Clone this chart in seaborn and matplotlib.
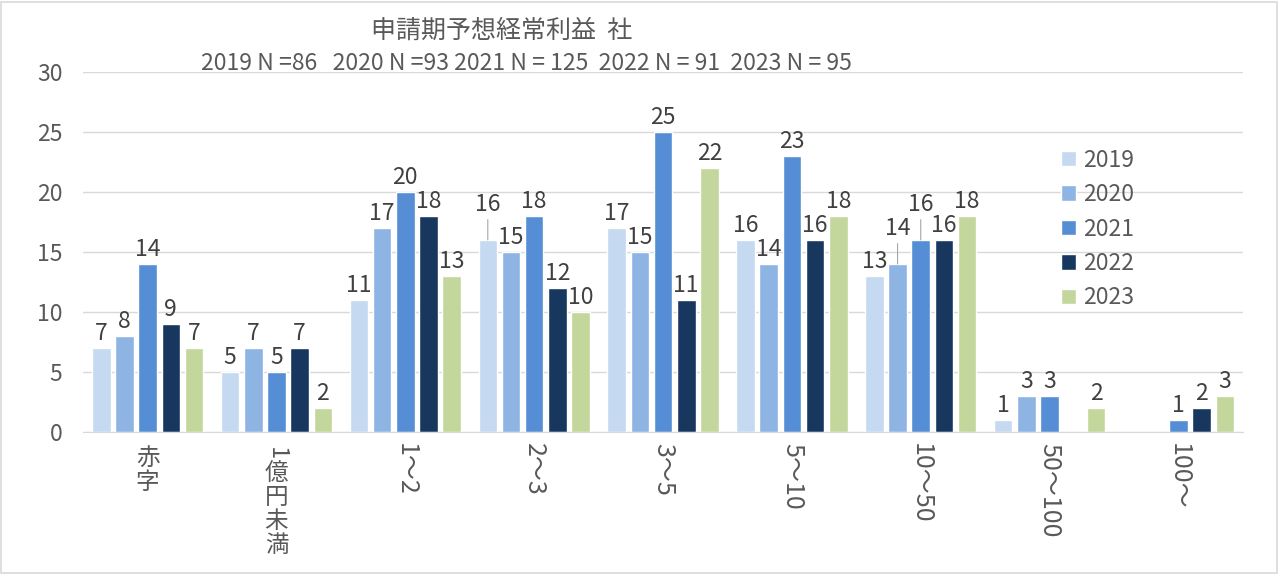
import matplotlib
matplotlib.use("Agg")
import matplotlib.pyplot as plt
from matplotlib.patches import Rectangle
import seaborn as sns
import pandas as pd

categories = ["赤字", "1億円未満", "1～2", "2～3", "3～5", "5～10", "10～50", "50～100", "100～"]
years = ["2019", "2020", "2021", "2022", "2023"]
v2019 = [7, 5, 11, 16, 17, 16, 13, 1, 0]
v2020 = [8, 7, 17, 15, 15, 14, 14, 3, 0]
v2021 = [14, 5, 20, 18, 25, 23, 16, 3, 1]
v2022 = [9, 7, 18, 12, 11, 16, 16, 0, 2]
v2023 = [7, 2, 13, 10, 22, 18, 18, 2, 3]
colors = ["#C5D9F1", "#8EB4E3", "#558ED5", "#17375E", "#C3D69B"]
title = "申請期予想経常利益  社"
subtitle = "2019 N =86   2020 N =93 2021 N = 125  2022 N = 91  2023 N = 95"
# labels that Excel moved up with a leader line: (year, category)
raised = [("2019", "2～3"), ("2020", "10～50"), ("2021", "10～50")]

rows = []
for yr, vals in zip(years, [v2019, v2020, v2021, v2022, v2023]):
    for c, v in zip(categories, vals):
        rows.append({"cat": c, "year": yr, "val": v})
df = pd.DataFrame(rows)

sns.set_style("white")
plt.rcParams["font.family"] = ["Noto Sans CJK JP", "DejaVu Sans"]
grey = "#595959"
fs = 16.5

fig = plt.figure(figsize=(12.8, 5.74), dpi=100)
ax = fig.add_axes([0.065, 0.247, 0.906, 0.628])

sns.barplot(data=df, x="cat", y="val", hue="year", palette=colors, saturation=1,
            width=0.9, gap=0.2, ax=ax, order=categories, hue_order=years)

ax.set_ylim(0, 30)
ax.set_yticks(range(0, 31, 5))
ax.set_xlim(-0.5, len(categories) - 0.5)
ax.yaxis.grid(True, color="#D9D9D9", linewidth=1)
ax.set_axisbelow(True)
for s in ["top", "right", "left"]:
    ax.spines[s].set_visible(False)
ax.spines["bottom"].set_color("#D9D9D9")
ax.tick_params(axis="y", length=0, pad=15, labelsize=fs, labelcolor=grey)
ax.tick_params(axis="x", length=0)
ax.set_xlabel("")
ax.set_ylabel("")
ax.set_xticklabels([])

# data labels
for yr, cont in zip(years, ax.containers):
    for c, bar in zip(categories, cont):
        h = bar.get_height()
        if not h:
            continue
        x = bar.get_x() + bar.get_width() / 2
        if (yr, c) in raised:
            ax.annotate(f"{h:.0f}", (x, h), xytext=(0, 17), textcoords="offset points",
                        ha="center", va="bottom", fontsize=fs, color="#404040",
                        arrowprops=dict(arrowstyle="-", color="#A6A6A6", lw=0.8,
                                        shrinkA=0, shrinkB=0))
        else:
            ax.annotate(f"{h:.0f}", (x, h), xytext=(0, 2), textcoords="offset points",
                        ha="center", va="bottom", fontsize=fs, color="#404040")

# vertical category labels (CJK upright, digits turned)
for i, c in enumerate(categories):
    if any("\u3400" <= ch <= "\u9fff" for ch in c):
        off = -11
        for ch in c:
            cjk = "\u3400" <= ch <= "\u9fff"
            ax.annotate(ch, (i, 0), xytext=(0, off), textcoords="offset points",
                        ha="center", va="top", rotation=0 if cjk else -90,
                        fontsize=17, color=grey)
            off -= 17 if cjk else 11
    else:
        ax.annotate(c, (i, 0), xytext=(0, -8), textcoords="offset points",
                    ha="center", va="top", rotation=-90, fontsize=18, color=grey)

handles, labels = ax.get_legend_handles_labels()
ax.legend(handles, labels, loc="upper left", bbox_to_anchor=(1040 / 1280, 1 - 128 / 574),
          bbox_transform=fig.transFigure, frameon=False, fontsize=fs,
          handlelength=0.65, handleheight=0.65, handletextpad=0.35, labelspacing=0.5,
          labelcolor=grey)

fig.text(502 / 1280, 1 - 31 / 574, title, ha="center", va="center", fontsize=18, color=grey)
fig.text(526 / 1280, 1 - 63 / 574, subtitle, ha="center", va="center", fontsize=16.6, color=grey)

fig.patches.append(Rectangle((0.001, 0.002), 0.997, 0.995, transform=fig.transFigure,
                             fill=False, edgecolor="#D9D9D9", linewidth=1.2))

fig.savefig("out.png", dpi=100, facecolor="white")
plt.close(fig)
